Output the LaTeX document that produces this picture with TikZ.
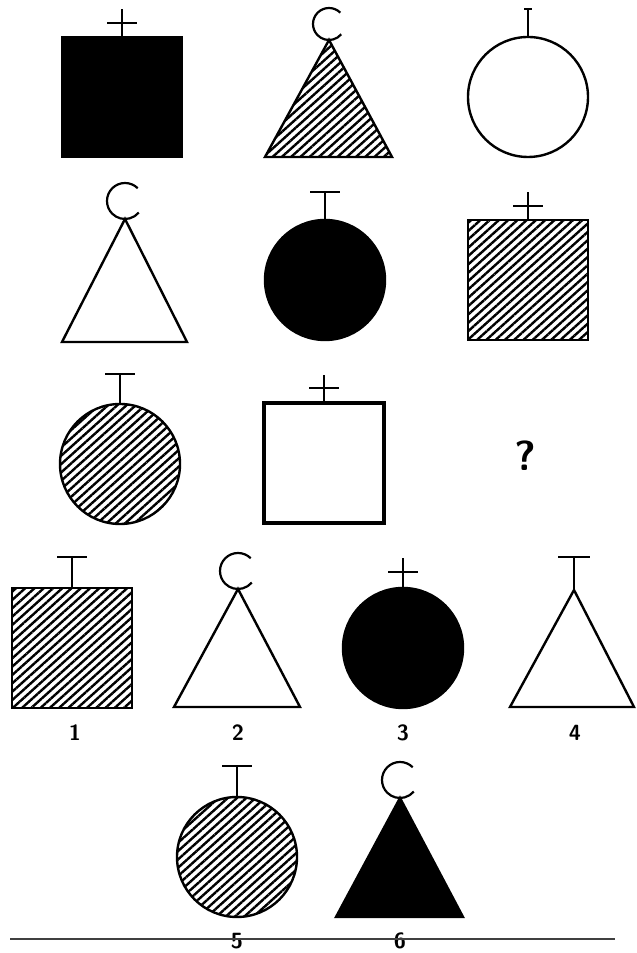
\documentclass[tikz,border=0pt]{standalone}
\usetikzlibrary{patterns.meta}

\begin{document}
\begin{tikzpicture}[
  x=1pt, y=1pt,
  every node/.style={inner sep=0pt, outer sep=0pt},
  outline/.style={draw=black, line width=2.4pt},
  solidfig/.style={outline, fill=black},
  hatchfig/.style={outline, pattern={Lines[angle=42, distance=6.2pt, line width=2.4pt]}},
  openfig/.style={outline, fill=white},
  sqr/.style={rectangle, minimum size=120pt},
  rnd/.style={circle, minimum size=120pt},
  stem/.style={line width=2.2pt},
  hook/.style={line width=2.2pt},
  numlabel/.style={font=\sffamily\bfseries\fontsize{22}{24}\selectfont}
]
 \useasboundingbox (0,0) rectangle (637,953);

 % Row 1 -- square, triangle, circle
 \node[sqr, solidfig] (sq1) at (122,856) {};
 \draw[stem] (sq1.north) -- ++(0,28) (sq1.north) ++(-15,14) -- ++(30,0);
 \coordinate (tr1) at (329,913);
 \draw[hatchfig] (265,796) -- (tr1) -- (392,796) -- cycle;
 \draw[hook] (tr1) ++(0,16) ++(45:16) arc[start angle=45, end angle=320, radius=16];
 \node[rnd, openfig] (ci1) at (528,856) {};
 \draw[stem] (ci1.north) -- ++(0,28) ++(-4,0) -- ++(8,0);

 % Row 2 -- triangle, circle, square
 \coordinate (tr2) at (125,734);
 \draw[openfig] (62,611) -- (tr2) -- (187,611) -- cycle;
 \draw[hook] (tr2) ++(0,18) ++(45:18) arc[start angle=45, end angle=320, radius=18];
 \node[rnd, solidfig] (ci2) at (325,673) {};
 \draw[stem] (ci2.north) -- ++(0,28) ++(-15,0) -- ++(30,0);
 \node[sqr, hatchfig] (sq2) at (528,673) {};
 \draw[stem] (sq2.north) -- ++(0,28) (sq2.north) ++(-15,14) -- ++(30,0);

 % Row 3 -- circle, square, missing one
 \node[rnd, hatchfig] (ci3) at (120,489) {};
 \draw[stem] (ci3.north) -- ++(0,30) ++(-15,0) -- ++(30,0);
 \node[sqr, openfig, line width=3.4pt] (sq3) at (324,490) {};
 \draw[stem] (sq3.north) -- ++(0,28) (sq3.north) ++(-15,15) -- ++(30,0);
 \node[font=\sffamily\bfseries\fontsize{42}{48}\selectfont] (qm) at (525,497) {?};

 % Row 4 -- options 1 to 4
 \node[sqr, hatchfig] (op1) at (72,305) {};
 \draw[stem] (op1.north) -- ++(0,31) ++(-15,0) -- ++(30,0);
 \coordinate (op2) at (238,364);
 \draw[openfig] (174,246) -- (op2) -- (300,246) -- cycle;
 \draw[hook] (op2) ++(0,18) ++(45:18) arc[start angle=45, end angle=320, radius=18];
 \node[rnd, solidfig] (op3) at (403,305) {};
 \draw[stem] (op3.north) -- ++(0,30) (op3.north) ++(-15,16) -- ++(30,0);
 \coordinate (op4) at (574,363);
 \draw[openfig] (510,246) -- (op4) -- (634,246) -- cycle;
 \draw[stem] (op4) -- ++(0,33) ++(-16,0) -- ++(32,0);

 \node[numlabel] (n1) at (75,220) {1};
 \node[numlabel] (n2) at (238,220) {2};
 \node[numlabel] (n3) at (403,220) {3};
 \node[numlabel] (n4) at (575,220) {4};

 % Row 5 -- options 5 and 6
 \node[rnd, hatchfig] (op5) at (237,96) {};
 \draw[stem] (op5.north) -- ++(0,31) ++(-15,0) -- ++(30,0);
 \coordinate (op6) at (400,155);
 \draw[solidfig] (336,36) -- (op6) -- (463,36) -- cycle;
 \draw[hook] (op6) ++(0,18) ++(45:18) arc[start angle=45, end angle=320, radius=18];

 \node[numlabel] (n5) at (237,12) {5};
 \node[numlabel] (n6) at (400,12) {6};

 \coordinate (ruleL) at (10,14);
 \coordinate (ruleR) at (615,14);
 \draw[line width=1.8pt, black!75] (ruleL) -- (ruleR);
\end{tikzpicture}
\end{document}
